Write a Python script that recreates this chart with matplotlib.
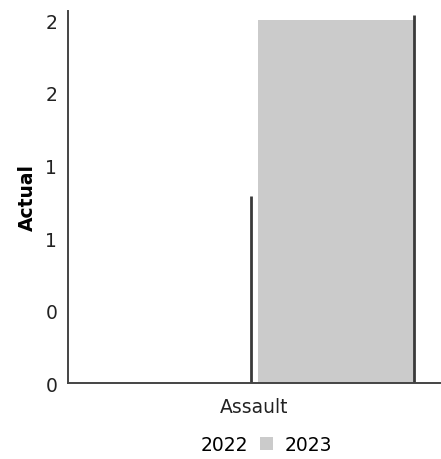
import matplotlib.pyplot as plt
import numpy as np

categories = ["Assault"]
years = ["2022", "2023"]
values_2022 = [1]
values_2023 = [2]
yticks = [0, 0.4, 0.8, 1.2, 1.6, 2.0]

fig = plt.figure(figsize=(4.41, 4.6), dpi=100)
ax = fig.add_axes([0.155, 0.165, 0.843, 0.81])

x = np.arange(len(categories))
w = 0.42
b1 = ax.bar(x - 0.22, values_2022, w, color="white", label=years[0])
b2 = ax.bar(x + 0.22, values_2023, w, color="#cbcbcb", label=years[1])

# dark right side of each bar (the flat 3d look)
for bars in (b1, b2):
    for r in bars:
        xr = r.get_x() + r.get_width()
        ax.plot([xr, xr], [0, r.get_height() + 0.03], color="#3a3a3a", lw=2.0,
                solid_capstyle="butt")

ax.set_xlim(-0.5, 0.5)
ax.set_ylim(0, 2.055)
ax.set_yticks(yticks)
ax.set_yticklabels(["%.0f" % v for v in yticks], fontsize=13.5, color="#222222")
ax.set_xticks(x)
ax.set_xticklabels(categories, fontsize=13.5, color="#222222")
ax.tick_params(length=0, pad=8)
ax.tick_params(axis="x", pad=10)
ax.set_ylabel("Actual", fontsize=13.5, fontweight="bold", labelpad=6)

for s in ("top", "right"):
    ax.spines[s].set_visible(False)
for s in ("left", "bottom"):
    ax.spines[s].set_color("#444444")
    ax.spines[s].set_linewidth(1.4)

ax.legend(loc="upper center", bbox_to_anchor=(0.5, -0.12), ncol=2, frameon=False,
          fontsize=13.5, handlelength=0.7, handleheight=0.7, handletextpad=0.6,
          columnspacing=0.6, borderaxespad=0)

fig.savefig("out.png", dpi=100)
